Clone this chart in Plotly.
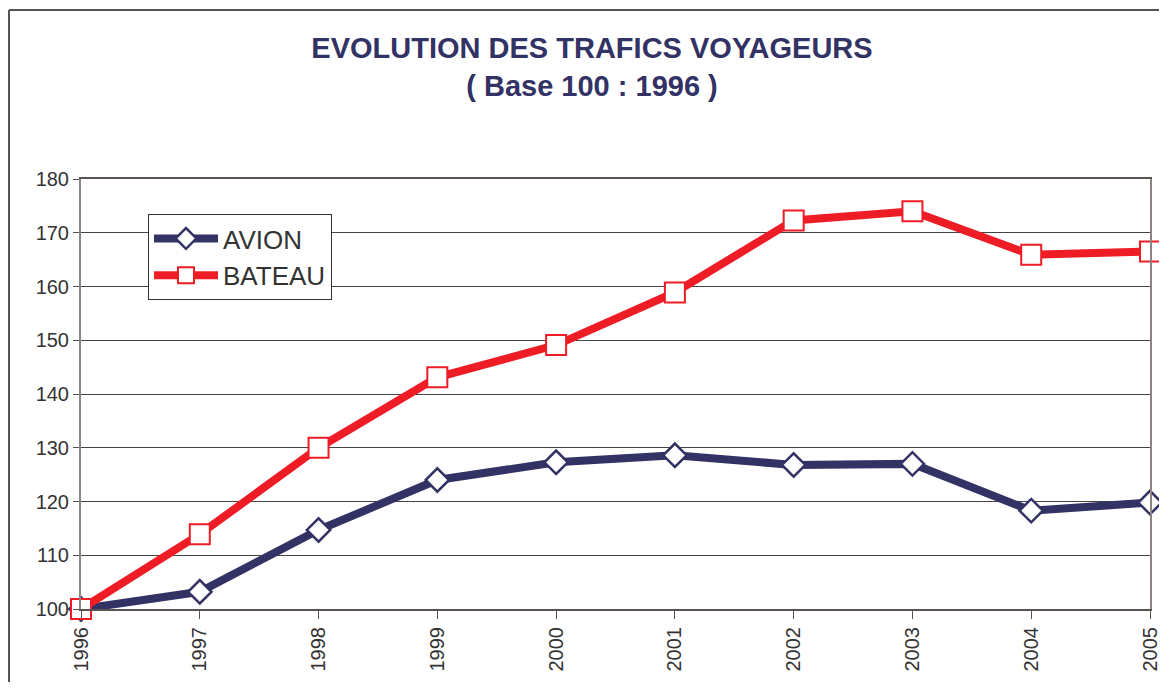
import plotly.graph_objects as go

years = [1996, 1997, 1998, 1999, 2000, 2001, 2002, 2003, 2004, 2005]
avion = [100, 103.2, 114.7, 124.0, 127.3, 128.6, 126.8, 127.0, 118.3, 119.8]
bateau = [100, 113.9, 130.0, 143.1, 149.1, 158.9, 172.3, 174.0, 165.9, 166.5]
year_labels = [str(y) for y in years]
y_ticks = [100, 110, 120, 130, 140, 150, 160, 170, 180]

NAVY = "#323264"
RED = "#EE1C25"
FONT = "Liberation Sans, Arial, sans-serif"

fig = go.Figure()
fig.add_trace(go.Scatter(
    x=years, y=avion, name="AVION", mode="lines+markers",
    line=dict(color=NAVY, width=8),
    marker=dict(symbol="diamond", size=18, color="white", line=dict(color=NAVY, width=2.5)),
    cliponaxis=False,
))
fig.add_trace(go.Scatter(
    x=years, y=bateau, name="BATEAU", mode="lines+markers",
    line=dict(color=RED, width=8),
    marker=dict(symbol="square", size=20, color="white", line=dict(color=RED, width=2)),
    cliponaxis=False,
))

# page body has an 8px margin: figure origin at (8, 8) in the window
OFF = 8
W, H = 1152, 674
L, R, T, B = 73, 10, 171, 73
pw = W - L - R
ph = H - T - B

def px(x):  # absolute window x -> paper
    return (x - OFF - L) / pw

def py(y):  # absolute window y -> paper
    return 1 - (y - OFF - T) / ph

fig.update_layout(
    width=W, height=H,
    margin=dict(l=L, r=R, t=T, b=B, autoexpand=False),
    paper_bgcolor="white", plot_bgcolor="white",
    font=dict(family=FONT, color="#333333"),
    title=dict(
        text="<b>EVOLUTION DES TRAFICS VOYAGEURS</b><br><b>( Base 100 : 1996 )</b>",
        x=px(592), xref="paper", xanchor="center",
        y=1 - (58 - OFF) / H, yanchor="middle",
        font=dict(family=FONT, size=29, color=NAVY),
    ),
    showlegend=True,
    legend=dict(
        x=px(148), y=py(214), xanchor="left", yanchor="top",
        bordercolor="#333333", borderwidth=1, bgcolor="white",
        font=dict(family=FONT, size=26, color="#333333"),
        itemwidth=64, tracegroupgap=0,
    ),
    xaxis=dict(
        range=[1996, 2005], tickmode="array", tickvals=years, ticktext=year_labels,
        tickangle=-90, tickfont=dict(size=20, color="#333333"),
        ticklabeloverflow="allow", automargin=False,
        showgrid=False, zeroline=False,
        showline=True, linecolor="#5a5350", linewidth=2, mirror=True,
        ticks="outside", ticklen=8, tickcolor="#5a5350", tickwidth=1,
    ),
    yaxis=dict(
        range=[100, 180], tickmode="array", tickvals=y_ticks,
        tickfont=dict(size=20, color="#333333"), automargin=False,
        showgrid=True, gridcolor="#444444", gridwidth=1, zeroline=False,
        showline=True, linecolor="#8c8480", linewidth=2, mirror=True,
        ticks="outside", ticklen=6, tickcolor="#5a5350", tickwidth=1,
    ),
    shapes=[
        dict(type="line", xref="paper", yref="paper",
             x0=px(9), x1=px(1180), y0=py(10), y1=py(10),
             line=dict(color="#555555", width=2)),
        dict(type="line", xref="paper", yref="paper",
             x0=px(9), x1=px(9), y0=py(10), y1=py(700),
             line=dict(color="#555555", width=2)),
    ],
)

fig.write_html("out.html")
